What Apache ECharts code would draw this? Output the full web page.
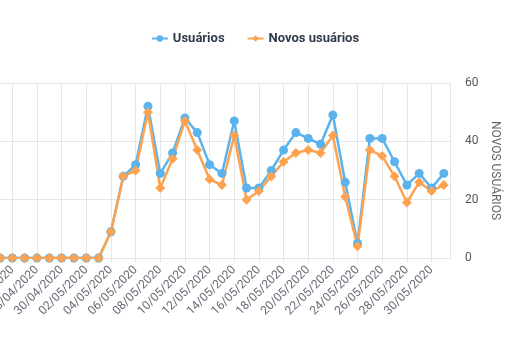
<!DOCTYPE html>
<html>
<head>
<meta charset="utf-8">
<script src="https://cdn.jsdelivr.net/npm/echarts@6/dist/echarts.min.js"></script>
<style>html,body{margin:0;padding:0;background:#fff}#c{width:510px;height:350px}</style>
</head>
<body>
<div id="c"></div>
<script>
var categories = ['24/04/2020','25/04/2020','26/04/2020','27/04/2020','28/04/2020','29/04/2020','30/04/2020',
  '01/05/2020','02/05/2020','03/05/2020','04/05/2020','05/05/2020','06/05/2020','07/05/2020','08/05/2020',
  '09/05/2020','10/05/2020','11/05/2020','12/05/2020','13/05/2020','14/05/2020','15/05/2020','16/05/2020',
  '17/05/2020','18/05/2020','19/05/2020','20/05/2020','21/05/2020','22/05/2020','23/05/2020','24/05/2020',
  '25/05/2020','26/05/2020','27/05/2020','28/05/2020','29/05/2020','30/05/2020','31/05/2020'];
var usuarios = [0,0,0,0,0,0,0,0,0,0,9,28,32,52,29,36,48,43,32,29,47,24,24,30,37,43,41,39,49,26,5,41,41,33,25,29,24,29];
var novosUsuarios = [0,0,0,0,0,0,0,0,0,0,9,28,30,50,24,34,47,37,27,25,42,20,23,28,33,36,37,36,42,21,4,37,35,28,19,26,23,25];
var yTicks = [0, 20, 40, 60];

var chart = echarts.init(document.getElementById('c'));
chart.setOption({
  animation: false,
  textStyle: {fontFamily: 'Roboto'},
  legend: {
    top: 27, left: 'center',
    itemWidth: 16, itemHeight: 8, itemGap: 22,
    textStyle: {fontFamily: 'Roboto', fontSize: 13, fontWeight: 'bold', color: '#2f3b4a'},
    data: ['Usuários', 'Novos usuários']
  },
  grid: {left: -18.5, right: 60, top: 83, bottom: 92, containLabel: false, outerBoundsMode: 'none'},
  xAxis: {
    type: 'category', boundaryGap: true, data: categories,
    axisLine: {lineStyle: {color: '#e3e3e3'}},
    axisTick: {show: true, alignWithLabel: true, length: 4, lineStyle: {color: '#e3e3e3'}},
    axisLabel: {rotate: 45, interval: 1, color: '#6a6a78', fontSize: 12, fontFamily: 'Roboto', margin: 10},
    splitLine: {show: true, alignWithLabel: true, interval: 1, lineStyle: {color: '#e6e6e6'}}
  },
  yAxis: {
    type: 'value', position: 'right', min: yTicks[0], max: yTicks[yTicks.length - 1], interval: 20,
    name: 'NOVOS USUÁRIOS', nameLocation: 'middle', nameRotate: -90, nameGap: 38,
    nameTextStyle: {color: '#666', fontSize: 12, fontFamily: 'Roboto'},
    axisLine: {show: true, lineStyle: {color: '#e3e3e3'}},
    axisTick: {show: false},
    axisLabel: {color: '#555', fontSize: 12, margin: 15, fontFamily: 'Roboto'},
    splitLine: {show: true, lineStyle: {color: '#e6e6e6'}}
  },
  series: [
    {name: 'Usuários', type: 'line', data: usuarios, symbol: 'circle', symbolSize: 9, showAllSymbol: true,
     itemStyle: {color: '#5ab3ec'}, lineStyle: {width: 2.5, color: '#5ab3ec'}},
    {name: 'Novos usuários', type: 'line', data: novosUsuarios, symbol: 'diamond', symbolSize: 10, showAllSymbol: true,
     itemStyle: {color: '#fda34f'}, lineStyle: {width: 2.5, color: '#fda34f'}}
  ]
});
</script>
</body>
</html>
